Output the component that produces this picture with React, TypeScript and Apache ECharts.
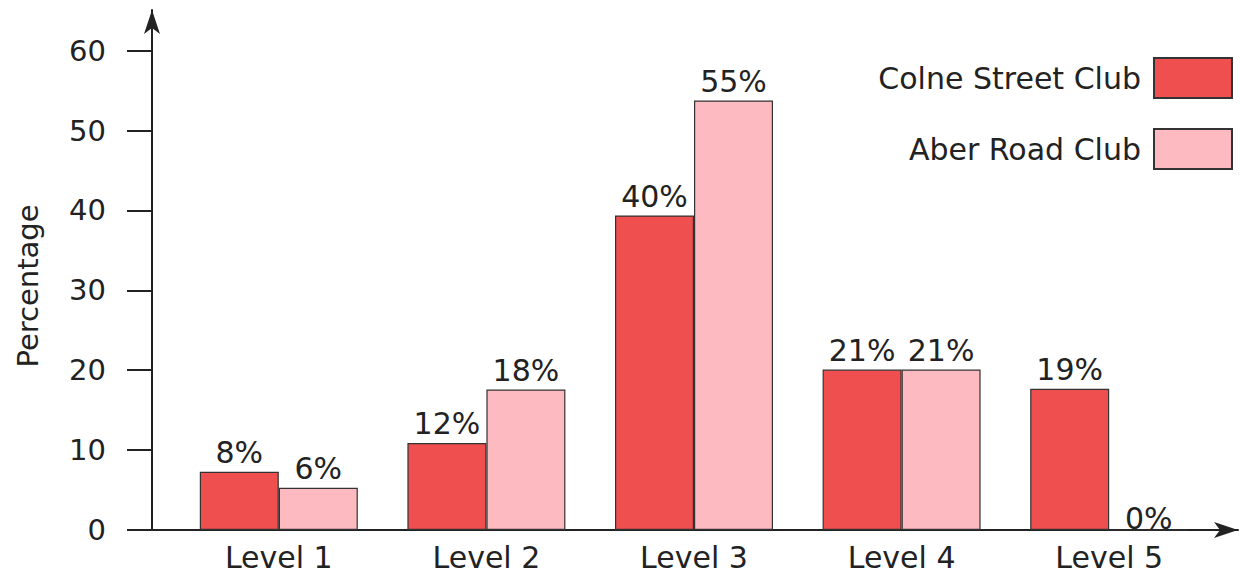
import React, { useEffect, useRef } from "react";
import * as echarts from "echarts";

const categories = ["Level 1", "Level 2", "Level 3", "Level 4", "Level 5"];
const colneValues = [7.3, 10.9, 39.4, 20.1, 17.7];
const aberValues = [5.3, 17.6, 53.8, 20.1, 0];
const colneLabels = ["8%", "12%", "40%", "21%", "19%"];
const aberLabels = ["6%", "18%", "55%", "21%", "0%"];
const yTicks = [0, 10, 20, 30, 40, 50, 60];

const FONT = "DejaVu Sans";
const TEXT = "#222";

export default function App() {
  const ref = useRef<HTMLDivElement>(null);
  useEffect(() => {
    if (!ref.current) return;
    const chart = echarts.init(ref.current, undefined, { renderer: "svg" });
    const lbl = (arr: string[]) => ({
      show: true,
      position: "top" as const,
      distance: 4,
      fontFamily: FONT,
      fontSize: 30,
      color: TEXT,
      formatter: (p: any) => arr[p.dataIndex],
    });
    // zero-height bars: the label sits right on the axis line, as in the reference
    const withZeroLabel = (vals: number[]) =>
      vals.map((v) => (v === 0 ? { value: v, label: { distance: -4 } } : v));
    chart.setOption({
      animation: false,
      backgroundColor: "#ffffff",
      textStyle: { fontFamily: FONT },
      legend: {
        orient: "vertical",
        right: 8,
        top: 52,
        align: "right",
        itemWidth: 78,
        itemHeight: 40,
        itemGap: 29,
        icon: "rect",
        textStyle: { fontFamily: FONT, fontSize: 30, color: TEXT, padding: [0, 8, 0, 0] },
        data: ["Colne Street Club", "Aber Road Club"],
      },
      grid: [
        { left: 175, right: 33, top: 51, bottom: 51 },
        { left: 152, right: 8, top: 10, bottom: 51 },
      ],
      xAxis: [
        {
          type: "category",
          gridIndex: 0,
          data: categories,
          axisLine: { show: false },
          axisTick: { show: false },
          axisLabel: { fontFamily: FONT, fontSize: 30, color: TEXT, margin: 12 },
        },
        {
          type: "value",
          gridIndex: 1,
          min: 0,
          max: 1,
          axisLine: {
            show: true,
            symbol: ["none", "arrow"],
            symbolSize: [12, 24],
            lineStyle: { color: "#222", width: 2 },
          },
          axisTick: { show: false },
          axisLabel: { show: false },
          splitLine: { show: false },
        },
      ],
      yAxis: [
        {
          type: "value",
          gridIndex: 0,
          min: 0,
          max: 60,
          show: false,
          splitLine: { show: false },
        },
        {
          type: "value",
          gridIndex: 1,
          min: 0,
          max: 65.1,
          name: "Percentage",
          nameLocation: "middle",
          nameGap: 110,
          nameTextStyle: { fontFamily: FONT, fontSize: 29, color: TEXT, padding: [0, 32, 0, 0] },
          axisLine: {
            show: true,
            symbol: ["none", "arrow"],
            symbolSize: [12, 24],
            lineStyle: { color: "#222", width: 2 },
          },
          axisTick: {
            show: true,
            length: 25,
            customValues: yTicks,
            lineStyle: { color: "#222", width: 2 },
          },
          axisLabel: {
            customValues: yTicks,
            margin: 46,
            fontFamily: FONT,
            fontSize: 29,
            color: TEXT,
          },
          splitLine: { show: false },
        },
      ],
      series: [
        {
          name: "Colne Street Club",
          type: "bar",
          xAxisIndex: 0,
          yAxisIndex: 0,
          data: withZeroLabel(colneValues),
          barWidth: 79,
          barGap: "0%",
          itemStyle: { color: "#EF4F4F", borderColor: "#333", borderWidth: 1.2 },
          label: lbl(colneLabels),
        },
        {
          name: "Aber Road Club",
          type: "bar",
          xAxisIndex: 0,
          yAxisIndex: 0,
          data: withZeroLabel(aberValues),
          barWidth: 79,
          barGap: "0%",
          itemStyle: { color: "#FDBAC0", borderColor: "#333", borderWidth: 1.2 },
          label: lbl(aberLabels),
        },
      ],
    });
    return () => chart.dispose();
  }, []);
  return <div ref={ref} style={{ width: 1246, height: 581, position: "absolute", left: 0, top: 0 }} />;
}
